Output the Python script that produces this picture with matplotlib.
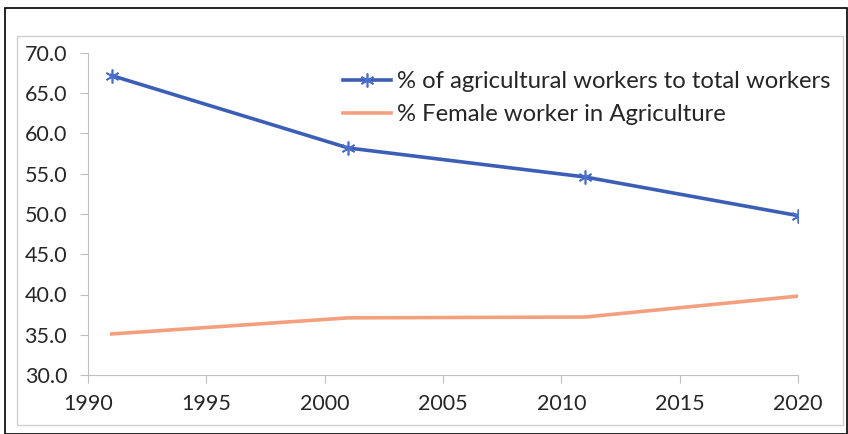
import matplotlib
matplotlib.use('Agg')
import matplotlib.pyplot as plt
from matplotlib.patches import Rectangle

# Data
years = [1991, 2001, 2011, 2020]
agri_share = [67.2, 58.2, 54.6, 49.8]
female_share = [35.1, 37.1, 37.2, 39.8]
x_ticks = [1990, 1995, 2000, 2005, 2010, 2015, 2020]
y_ticks = [30, 35, 40, 45, 50, 55, 60, 65, 70]

plt.rcParams['font.family'] = ['Lato', 'DejaVu Sans']

fig = plt.figure(figsize=(8.48, 4.34), dpi=100)
W, H = 848, 434

# outer black frame and inner grey chart-area frame
fig.patches.append(Rectangle((5 / W, 0), 842 / W, 1 - 8 / H, transform=fig.transFigure,
                             fill=False, edgecolor='black', lw=1.2))
fig.patches.append(Rectangle((17 / W, 9 / H), 826 / W, (425 - 36) / H, transform=fig.transFigure,
                             fill=False, edgecolor='#d0d0d0', lw=1.0))

ax = fig.add_axes([88 / W, 1 - 375 / H, (798 - 88) / W, (375 - 53) / H])

ax.plot(years, agri_share, color='#3b5fb7', lw=2.6, marker=(6, 2, 0), markersize=10,
        markeredgewidth=1.2, markeredgecolor='#4a6fc8',
        label='% of agricultural workers to total workers')
ax.plot(years, female_share, color='#f4a07e', lw=2.6,
        label='% Female worker in Agriculture')

ax.set_xlim(1990, 2020)
ax.set_ylim(30, 70)
ax.set_xticks(x_ticks)
ax.set_yticks(y_ticks)
ax.set_yticklabels([f'{v:.1f}' for v in y_ticks])

for s in ['top', 'right']:
    ax.spines[s].set_visible(False)
for s in ['left', 'bottom']:
    ax.spines[s].set_color('#bfbfbf')
ax.tick_params(axis='both', colors='#bfbfbf', labelcolor='#262626', labelsize=15.5,
               length=6, direction='out')
ax.tick_params(axis='x', pad=8)
ax.tick_params(axis='y', pad=9)

leg = ax.legend(loc='upper left', bbox_to_anchor=((343 - 88) / 710, 1 - (71 - 53) / 322),
                frameon=False, fontsize=17.2, handlelength=2.0, handletextpad=0.25,
                labelspacing=0.5, borderaxespad=0, borderpad=0)
for t in leg.get_texts():
    t.set_color('#262626')

fig.savefig('out.png', dpi=100)
